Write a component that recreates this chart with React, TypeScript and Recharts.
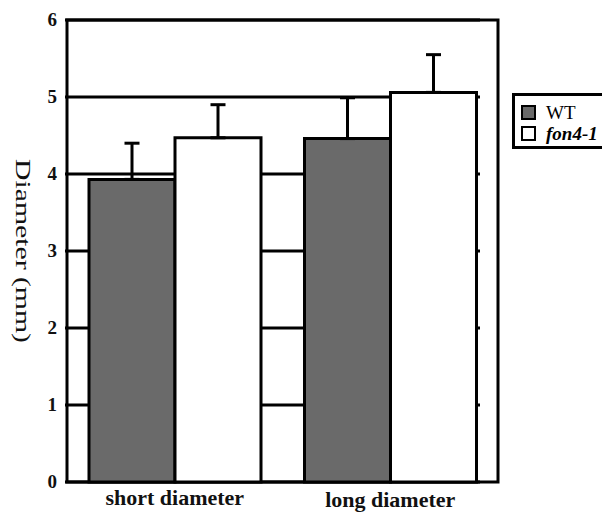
import { BarChart, Bar, XAxis, YAxis, CartesianGrid, ErrorBar, ReferenceArea } from "recharts";

const categories = ["short diameter", "long diameter"];
const seriesNames = ["WT", "fon4-1"];
const wtMeans = [3.93, 4.46];
const wtErrors = [0.47, 0.53];
const fonMeans = [4.47, 5.06];
const fonErrors = [0.43, 0.49];
const yTicks = [0, 1, 2, 3, 4, 5, 6];

const data = categories.map((name, i) => ({
  name,
  wt: wtMeans[i],
  wtErr: [0, wtErrors[i]],
  fon: fonMeans[i],
  fonErr: [0, fonErrors[i]],
}));

const serif = "'Liberation Serif', 'Times New Roman', serif";
const fills = ["#6a6a6a", "#ffffff"];

// second label sits a little lower in the original
function XTick({ x, y, payload, index }: any) {
  return (
    <text x={x} y={y + 15 + index * 2} textAnchor="middle" fontFamily={serif} fontWeight="bold" fontSize={22} fill="#111">
      {payload.value}
    </text>
  );
}

function YTick({ x, y, payload }: any) {
  return (
    <text x={x} y={y} dy={6} textAnchor="end" fontFamily={serif} fontWeight="bold" fontSize={19} fill="#111">
      {payload.value}
    </text>
  );
}

function YLabel() {
  return (
    <text
      x={15}
      y={243}
      transform="rotate(90 15 243)"
      textAnchor="middle"
      dominantBaseline="central"
      fontFamily={serif}
      fontSize={21}
      textLength={184}
      lengthAdjust="spacingAndGlyphs"
      fill="#111"
    >
      Diameter (mm)
    </text>
  );
}

export default function App() {
  return (
    <div style={{ position: "relative", width: 602, height: 504 }}>
      <BarChart
        width={602}
        height={504}
        data={data}
        margin={{ top: 12, right: 130, bottom: 0, left: 0 }}
        barGap={0}
        barSize={86}
      >
        <CartesianGrid horizontal vertical={false} stroke="#000" strokeWidth={3} />
        <ReferenceArea y1={0} y2={6} fill="none" stroke="#000" strokeWidth={3} />
        <XAxis
          dataKey="name"
          height={30}
          axisLine={false}
          tickLine={false}
          padding={{ left: 2, right: -18 }}
          tick={<XTick />}
        />
        <YAxis
          width={57}
          domain={[0, 6]}
          ticks={yTicks}
          axisLine={false}
          tickLine={false}
          tick={<YTick />}
          label={<YLabel />}
        />
        <Bar dataKey="wt" name={seriesNames[0]} fill={fills[0]} stroke="#000" strokeWidth={3} isAnimationActive={false}>
          <ErrorBar dataKey="wtErr" width={7.5} stroke="#000" strokeWidth={3} isAnimationActive={false} />
        </Bar>
        <Bar dataKey="fon" name={seriesNames[1]} fill={fills[1]} stroke="#000" strokeWidth={3} isAnimationActive={false}>
          <ErrorBar dataKey="fonErr" width={7.5} stroke="#000" strokeWidth={3} isAnimationActive={false} />
        </Bar>
      </BarChart>
      <div
        style={{
          position: "absolute",
          left: 504,
          top: 85,
          width: 96,
          height: 56,
          border: "3px solid #000",
          fontFamily: serif,
          fontSize: 19,
          paddingTop: 6,
          paddingLeft: 6,
          boxSizing: "border-box",
        }}
      >
        {seriesNames.map((s, i) => (
          <div key={s} style={{ display: "flex", alignItems: "center", height: 21 }}>
            <span
              style={{
                display: "inline-block",
                width: 11,
                height: 11,
                border: "2px solid #000",
                background: fills[i],
                marginRight: 10,
              }}
            />
            <span style={{ fontStyle: i === 1 ? "italic" : "normal", fontWeight: i === 1 ? "bold" : "normal" }}>{s}</span>
          </div>
        ))}
      </div>
    </div>
  );
}
